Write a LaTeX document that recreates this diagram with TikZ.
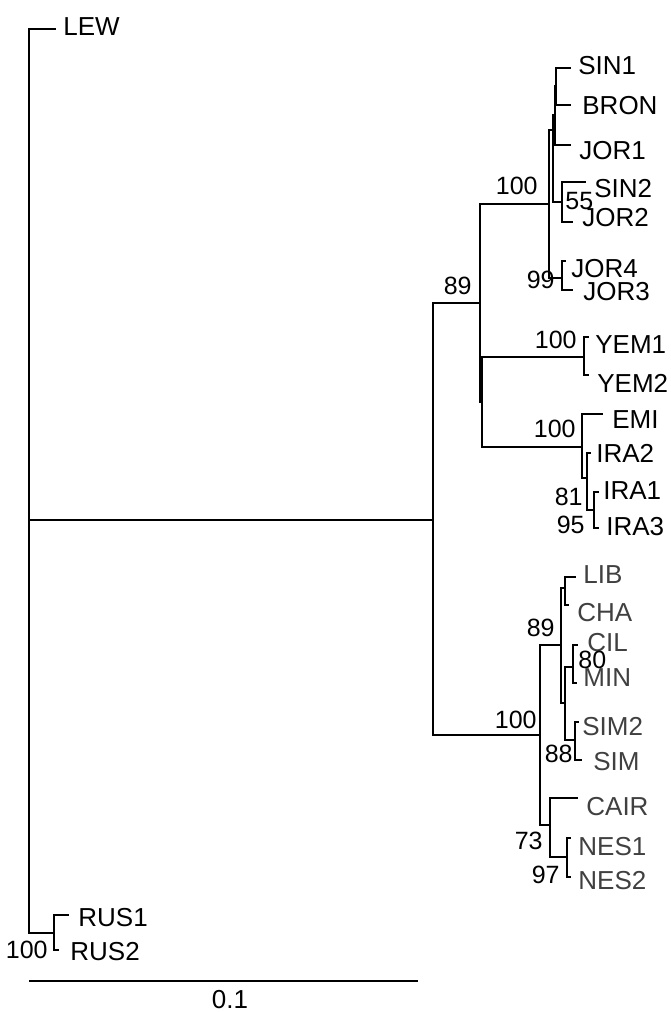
\documentclass[tikz,border=0pt]{standalone}
\usepackage{fontspec}
\setmainfont{Liberation Sans}
\usepackage{tikz}
\usetikzlibrary{positioning}

\begin{document}
\begin{tikzpicture}[
    x=0.5pt, y=-0.5pt,
    branch/.style={draw=black, line width=1.3pt, line cap=rect},
    tipLabel/.style={anchor=west, inner sep=0pt, font=\fontsize{13}{15}\selectfont},
    lightTip/.style={tipLabel, text=black!75},
    bootLabel/.style={anchor=east, inner sep=0pt, font=\fontsize{12.5}{14}\selectfont}
]

    \useasboundingbox (0,0) rectangle (670,1012);

    % internal nodes
    \coordinate (root) at (29,520);
    \coordinate (ingroup) at (433,520);
    \coordinate (asia) at (480,303);
    \coordinate (levant) at (549,204);
    \coordinate (levB) at (553,130);
    \coordinate (levB1) at (555,115);
    \coordinate (sinBron) at (556,86);
    \coordinate (sinJor) at (562,202);
    \coordinate (jorNode) at (562,278);
    \coordinate (gulf) at (482,402);
    \coordinate (yemNode) at (584,357);
    \coordinate (emiIra) at (582,447);
    \coordinate (iraD) at (587,478);
    \coordinate (iraE) at (594,510);
    \coordinate (africa) at (540,735);
    \coordinate (afrG) at (561,645);
    \coordinate (libCha) at (565,588);
    \coordinate (afrH) at (565,703);
    \coordinate (cilMin) at (573,667);
    \coordinate (simNode) at (575,740);
    \coordinate (nile) at (550,825);
    \coordinate (nesNode) at (567,857);
    \coordinate (rusNode) at (54,933);

    % tip ends
    \coordinate (lew) at (55,29);
    \coordinate (sin1) at (570,68);
    \coordinate (bron) at (570,105);
    \coordinate (jor1) at (570,145);
    \coordinate (sin2) at (585,182);
    \coordinate (jor2) at (572,222);
    \coordinate (jor4) at (565,261);
    \coordinate (jor3) at (572,290);
    \coordinate (yem1) at (588,337);
    \coordinate (yem2) at (588,375);
    \coordinate (emi) at (602,414);
    \coordinate (ira2) at (590,453);
    \coordinate (ira1) at (598,492);
    \coordinate (ira3) at (598,528);
    \coordinate (lib) at (575,577);
    \coordinate (cha) at (568,605);
    \coordinate (cil) at (577,645);
    \coordinate (min) at (576,683);
    \coordinate (sim2) at (578,722);
    \coordinate (sim) at (581,760);
    \coordinate (cair) at (577,798);
    \coordinate (nes1) at (570,838);
    \coordinate (nes2) at (570,877);
    \coordinate (rus1) at (68,915);
    \coordinate (rus2) at (58,950);

    % branches
    \draw[branch] (root) |- (lew);
    \draw[branch] (root) -- (ingroup);
    \draw[branch] (root) |- (rusNode);
    \draw[branch] (rusNode) |- (rus1);
    \draw[branch] (rusNode) |- (rus2);

    \draw[branch] (ingroup) |- (asia);
    \draw[branch] (ingroup) |- (africa);

    \draw[branch] (asia) |- (levant);
    \draw[branch] (asia) |- (gulf);
    \draw[branch] (levant) |- (levB);
    \draw[branch] (levant) |- (jorNode);
    \draw[branch] (levB) |- (levB1);
    \draw[branch] (levB) |- (sinJor);
    \draw[branch] (levB1) |- (sinBron);
    \draw[branch] (levB1) |- (jor1);
    \draw[branch] (sinBron) |- (sin1);
    \draw[branch] (sinBron) |- (bron);
    \draw[branch] (sinJor) |- (sin2);
    \draw[branch] (sinJor) |- (jor2);
    \draw[branch] (jorNode) |- (jor4);
    \draw[branch] (jorNode) |- (jor3);

    \draw[branch] (gulf) |- (yemNode);
    \draw[branch] (gulf) |- (emiIra);
    \draw[branch] (yemNode) |- (yem1);
    \draw[branch] (yemNode) |- (yem2);
    \draw[branch] (emiIra) |- (emi);
    \draw[branch] (emiIra) |- (iraD);
    \draw[branch] (iraD) |- (ira2);
    \draw[branch] (iraD) |- (iraE);
    \draw[branch] (iraE) |- (ira1);
    \draw[branch] (iraE) |- (ira3);

    \draw[branch] (africa) |- (afrG);
    \draw[branch] (africa) |- (nile);
    \draw[branch] (afrG) |- (libCha);
    \draw[branch] (afrG) |- (afrH);
    \draw[branch] (libCha) |- (lib);
    \draw[branch] (libCha) |- (cha);
    \draw[branch] (afrH) |- (cilMin);
    \draw[branch] (afrH) |- (simNode);
    \draw[branch] (cilMin) |- (cil);
    \draw[branch] (cilMin) |- (min);
    \draw[branch] (simNode) |- (sim2);
    \draw[branch] (simNode) |- (sim);
    \draw[branch] (nile) |- (cair);
    \draw[branch] (nile) |- (nesNode);
    \draw[branch] (nesNode) |- (nes1);
    \draw[branch] (nesNode) |- (nes2);

    % tip labels
    \node[tipLabel] (lewLbl) at (63,27) {LEW};
    \node[tipLabel] (sin1Lbl) at (578,66) {SIN1};
    \node[tipLabel] (bronLbl) at (582,106) {BRON};
    \node[tipLabel] (jor1Lbl) at (579,151) {JOR1};
    \node[tipLabel] (sin2Lbl) at (594,189) {SIN2};
    \node[tipLabel] (jor2Lbl) at (582,218) {JOR2};
    \node[tipLabel] (jor4Lbl) at (571,269) {JOR4};
    \node[tipLabel] (jor3Lbl) at (583,292) {JOR3};
    \node[tipLabel] (yem1Lbl) at (595,345) {YEM1};
    \node[tipLabel] (yem2Lbl) at (597,383) {YEM2};
    \node[tipLabel] (emiLbl) at (612,420) {EMI};
    \node[tipLabel] (ira2Lbl) at (596,453) {IRA2};
    \node[tipLabel] (ira1Lbl) at (603,491) {IRA1};
    \node[tipLabel] (ira3Lbl) at (606,527) {IRA3};
    \node[lightTip] (libLbl) at (583,575) {LIB};
    \node[lightTip] (chaLbl) at (577,613) {CHA};
    \node[lightTip] (cilLbl) at (587,643) {CIL};
    \node[lightTip] (minLbl) at (583,678) {MIN};
    \node[lightTip] (sim2Lbl) at (582,727) {SIM2};
    \node[lightTip] (simLbl) at (593,762) {SIM};
    \node[lightTip] (cairLbl) at (586,807) {CAIR};
    \node[lightTip] (nes1Lbl) at (578,847) {NES1};
    \node[lightTip] (nes2Lbl) at (578,881) {NES2};
    \node[tipLabel] (rus1Lbl) at (78,918) {RUS1};
    \node[tipLabel] (rus2Lbl) at (70,952) {RUS2};

    % bootstrap values
    \node[bootLabel] (bsLevant) at (538,186) {100};
    \node[bootLabel, anchor=west] (bsSinJor) at (565,201) {55};
    \node[bootLabel] (bsJor) at (555,280) {99};
    \node[bootLabel] (bsAsia) at (472,286) {89};
    \node[bootLabel] (bsYem) at (577,340) {100};
    \node[bootLabel] (bsEmi) at (576,429) {100};
    \node[bootLabel] (bsIraD) at (583,497) {81};
    \node[bootLabel] (bsIraE) at (585,525) {95};
    \node[bootLabel] (bsAfrG) at (555,628) {89};
    \node[bootLabel, anchor=west] (bsCilMin) at (578,660) {80};
    \node[bootLabel] (bsAfrica) at (537,720) {100};
    \node[bootLabel] (bsSim) at (573,754) {88};
    \node[bootLabel] (bsNile) at (543,841) {73};
    \node[bootLabel] (bsNes) at (560,875) {97};
    \node[bootLabel] (bsRus) at (48,950) {100};

    % scale bar
    \coordinate (barL) at (30,981);
    \coordinate (barR) at (417,981);
    \draw[branch] (barL) -- (barR);
    \node[tipLabel, anchor=center] (barLbl) at (230,1000) {0.1};

\end{tikzpicture}
\end{document}
